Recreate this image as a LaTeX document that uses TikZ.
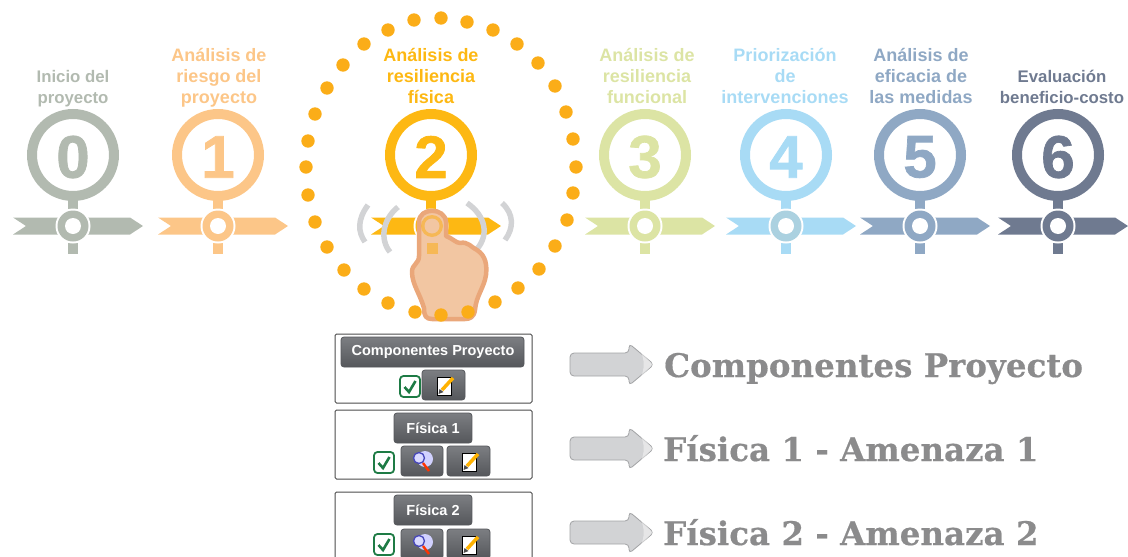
\documentclass[tikz,border=0pt]{standalone}
\usepackage{fontspec}
\setmainfont{Liberation Sans}
\newfontfamily\slabfont[BoldFeatures={FakeBold=0.5}]{DejaVu Serif}
\newfontfamily\digitfont[BoldFeatures={FakeBold=1.2}]{Liberation Sans}
\definecolor{cz}{HTML}{B2BAB0}
\definecolor{ca}{HTML}{FCC688}
\definecolor{cb}{HTML}{FDB813}
\definecolor{cc}{HTML}{DCE4A4}
\definecolor{cd}{HTML}{A8DBF5}
\definecolor{ce}{HTML}{8FA8C4}
\definecolor{cf}{HTML}{6F7A90}
\definecolor{dotc}{HTML}{FBAD18}
\definecolor{skin}{HTML}{F2C6A2}
\definecolor{skinb}{HTML}{EAA77A}
\definecolor{btn}{HTML}{6A6C70}
\definecolor{btnt}{HTML}{7C7E82}
\definecolor{btnb}{HTML}{55575B}
\definecolor{arrf}{HTML}{D2D3D5}
\definecolor{arrb}{HTML}{A2A3A5}
\definecolor{txtg}{HTML}{8B8B8C}
\definecolor{chk}{HTML}{1E7B45}
\tikzset{
  steplabel/.style={font=\bfseries\fontsize{#1}{21}\selectfont,align=center,anchor=south,inner sep=0pt,execute at end node={\strut}},
  digit/.style={font=\digitfont\bfseries\fontsize{60}{60}\selectfont,inner sep=0pt},
  panel/.style={draw=black!70,line width=1pt,fill=white,rounded corners=1.5pt},
  btnbox/.style={draw=btnb,top color=btnt,bottom color=btnb,rounded corners=3pt,line width=.8pt},
  btntext/.style={text=white,font=\bfseries\fontsize{#1}{#1}\selectfont,inner sep=0pt},
  checkbox/.style={draw=chk,line width=1.8pt,fill=white,rounded corners=3.5pt},
  biglabel/.style={text=txtg,font=\slabfont\bfseries\fontsize{32.5}{32.5}\selectfont,anchor=base west,inner sep=0pt},
  vib/.style={draw=arrf,line width=5.5pt}
}
\newcommand\stagemark[5]{%
  \draw[#2,line width=10pt] (#1,155) circle (41);
  \node[digit,text=#2] (d#3) at (#1,157) {#4};
  \fill[#2] (#1-5,195) rectangle (#1+5,209);
  \fill[#2] (#1-60,217.5) -- (#1+57,217.5) -- (#1+70,226) -- (#1+57,234.5) -- (#1-60,234.5) -- (#1-47,226) -- cycle;
  \fill[#2] (#1-5,243) rectangle (#1+5,254);
  \fill[white] (#1,226) circle (17.5);
  \fill[#5] (#1,226) circle (15.5);
  \fill[white] (#1,226) circle (8);
}
\newcommand\greyarrow[2]{%
  \draw[arrb,fill=arrf,line width=.8pt,rounded corners=4pt]
    (570,#1-11.5) -- (629,#1-11.5) -- (629,#1-21) -- (654,#1) -- (629,#1+21) -- (629,#1+11.5) -- (570,#1+11.5) -- cycle;
  \fill[white,opacity=.45] (640,#1-14) -- (652.5,#1) -- (640,#1+14) .. controls (645,#1+5) and (645,#1-5) .. cycle;
}
\newcommand\checkmk[2]{%
  \draw[checkbox] (#1,#2) rectangle (#1+20,#2+21);
  \draw[chk,line width=2.6pt] (#1+4.5,#2+11) -- (#1+9,#2+16) -- (#1+15.5,#2+5);
}
\newcommand\pencilbtn[2]{%
  \draw[btnbox] (#1,#2) rectangle (#1+43,#2+30);
  \fill[white] (#1+15,#2+7) rectangle (#1+29,#2+25);
  \draw[black,line width=.7pt] (#1+15,#2+7) rectangle (#1+29,#2+25);
  \draw[orange!60!yellow,line width=3.5pt] (#1+20,#2+20) -- (#1+31,#2+8);
  \fill[black!70] (#1+16.5,#2+24) -- (#1+17.5,#2+19) -- (#1+21.5,#2+22) -- cycle;
}
\newcommand\lensbtn[2]{%
  \draw[btnbox] (#1,#2) rectangle (#1+42,#2+30);
  \fill[blue!18!white] (#1+24,#2+13) circle (8);
  \fill[white!85!blue] (#1+18,#2+12) circle (5.5);
  \draw[blue!45!gray,line width=1.3pt] (#1+18,#2+12) circle (5.5);
  \draw[red!60!orange,line width=2.4pt] (#1+22,#2+17) -- (#1+28,#2+25);
}
\begin{document}
\begin{tikzpicture}[x=1pt,y=-1pt]
\useasboundingbox (0,0) rectangle (1128,557);

\node[steplabel=16.8,text=cz] (l0) at (73,109.5) {Inicio del\\proyecto};
\node[steplabel=18,text=ca] (l1) at (219,109.5) {Análisis de\\riesgo del\\proyecto};
\node[steplabel=18,text=cb] (l2) at (431,109.5) {Análisis de\\resiliencia\\física};
\node[steplabel=18,text=cc] (l3) at (647,109.5) {Análisis de\\resiliencia\\funcional};
\node[steplabel=18,text=cd] (l4) at (785,109.5) {Priorización\\de\\intervenciones};
\node[steplabel=18,text=ce] (l5) at (921,109.5) {Análisis de\\eficacia de\\las medidas};
\node[steplabel=16.8,text=cf] (l6) at (1062,109.5) {Evaluación\\beneficio-costo};

\stagemark{73}{cz}{0}{0}{cz}
\stagemark{218}{ca}{1}{1}{ca}
\stagemark{431}{cb}{2}{2}{cb}
\stagemark{645}{cc}{3}{3}{cc}
\stagemark{786}{cd}{4}{4}{cd!70!cz}
\stagemark{920}{ce}{5}{5}{ce}
\stagemark{1058}{cf}{6}{6}{cf}

\draw[vib] (368,205) .. controls (357,220) and (358,232) .. (365,242);
\draw[vib] (398,207) .. controls (382,220) and (380,240) .. (390,252);
\draw[vib] (467,203) .. controls (486,216) and (489,235) .. (477,249);
\draw[vib] (502,203) .. controls (514,214) and (514,228) .. (505,240);

\draw[skinb,fill=skin,line width=4.5pt,line join=round]
  (419,222) .. controls (419,207) and (445,207) .. (446,222)
  -- (446,236) .. controls (452,238) and (456,243) .. (460,243)
  .. controls (468,241) and (472,248) .. (477,250)
  .. controls (486,256) and (487,265) .. (486,275)
  .. controls (484,288) and (476,296) .. (475,310)
  .. controls (474,317) and (470,319) .. (465,319)
  -- (432,319) .. controls (426,319) and (424,316) .. (424,308)
  .. controls (420,294) and (412,284) .. (412,272)
  .. controls (412,264) and (419,264) .. (419,256) -- cycle;
\fill[dotc,opacity=.55] (432,226) circle (11);
\fill[skin] (432,226) circle (7.5);
\fill[dotc,opacity=.55] (427,243) rectangle (438,254);

\foreach \px/\py in {315/114,308/141,306/167,308/195,315/222,327/247,344/270,364/289,388/303,415/312,441/315,468/312,495/302,518/288,539/269,555/246,567/220,573/193,576/167,573/139,566/112,555/86,538/63,517/44,493/30,467/22,441/18,414/20,388/30,364/44,343/65,327/88}
  \fill[dotc] (\px,\py) circle (6.7);

\draw[panel] (335,334) rectangle (532,403);
\draw[btnbox] (341,337) rectangle (524,367);
\node[btntext=14.5] (p1) at (433,352) {Componentes Proyecto};
\checkmk{400}{376}
\pencilbtn{422}{370}

\draw[panel] (335,410) rectangle (532,479);
\draw[btnbox] (394,413) rectangle (472,443);
\node[btntext=14.5] (p2) at (433,428) {Física 1};
\checkmk{374}{452}
\lensbtn{401}{446}
\pencilbtn{447}{446}

\draw[panel] (335,570) -- (335,492) -- (532,492) -- (532,570);
\draw[btnbox] (394,495) rectangle (472,525);
\node[btntext=14.5] (p3) at (433,510) {Física 2};
\checkmk{374}{534}
\lensbtn{401}{529}
\pencilbtn{447}{529}

\greyarrow{364.5}{a1}
\greyarrow{448.5}{a2}
\greyarrow{532.5}{a3}
\node[biglabel] (t1) at (664,377) {Componentes Proyecto};
\node[biglabel] (t2) at (663,461) {Física 1 - Amenaza 1};
\node[biglabel] (t3) at (663,545) {Física 2 - Amenaza 2};
\end{tikzpicture}
\end{document}
